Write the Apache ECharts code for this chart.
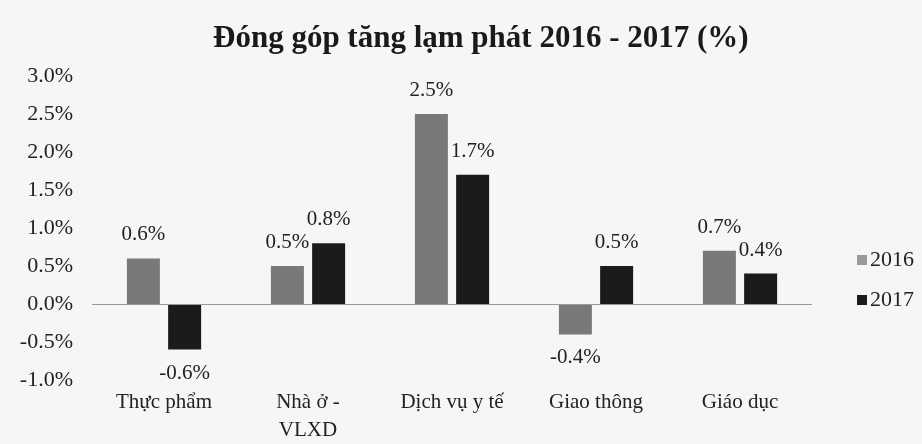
<!DOCTYPE html>
<html>
<head>
<meta charset="utf-8">
<script src="https://cdn.jsdelivr.net/npm/echarts@6/dist/echarts.min.js"></script>
<style>
html,body{margin:0;padding:0;background:#f6f6f4;}
#chart{width:922px;height:444px;}
</style>
</head>
<body>
<div id="chart"></div>
<script>
const titleText = 'Đóng góp tăng lạm phát 2016 - 2017 (%)';
const categories = ['Thực phẩm', 'Nhà ở -\nVLXD', 'Dịch vụ y tế', 'Giao thông', 'Giáo dục'];
const seriesNames = ['2016', '2017'];
const values2016 = [0.6, 0.5, 2.5, -0.4, 0.7];
const values2017 = [-0.6, 0.8, 1.7, 0.5, 0.4];
const yMin = -1.0, yMax = 3.0, yStep = 0.5;

const FONT = '"Liberation Serif", "DejaVu Serif", serif';
const TEXT = '#222';

function pct(v){ return v.toFixed(1) + '%'; }
function toItems(arr){
  return arr.map(v => ({
    value: v,
    label: { position: v < 0 ? 'bottom' : 'top' }
  }));
}

const chart = echarts.init(document.getElementById('chart'));
chart.setOption({
  backgroundColor: '#f6f6f4',
  animation: false,
  title: {
    text: titleText,
    left: 208,
    top: 18,
    textStyle: { fontFamily: FONT, fontSize: 31, fontWeight: 'bold', color: '#1a1a1a' }
  },
  legend: {
    data: [
      { name: seriesNames[0], itemStyle: { color: '#9a9a9c' } },
      { name: seriesNames[1], itemStyle: { color: '#1b1b1d' } }
    ],
    orient: 'vertical',
    left: 852,
    top: 244,
    itemWidth: 10,
    itemHeight: 10,
    itemGap: 18,
    icon: 'rect',
    textStyle: { fontFamily: FONT, fontSize: 22, color: TEXT, padding: [0,0,0,-2] }
  },
  grid: { left: 92, right: 110, top: 76, bottom: 57, containLabel: false },
  xAxis: {
    type: 'category',
    data: categories,
    axisLine: { show: false, onZero: false },
    axisTick: { show: false },
    axisLabel: { fontFamily: FONT, fontSize: 21, color: TEXT, margin: 8, lineHeight: 28, interval: 0 }
  },
  yAxis: {
    type: 'value',
    min: yMin, max: yMax, interval: yStep,
    axisLine: { show: false },
    axisTick: { show: false },
    splitLine: { show: false },
    axisLabel: { fontFamily: FONT, fontSize: 22, color: TEXT, margin: 19, formatter: v => pct(v) }
  },
  series: [
    {
      name: seriesNames[0], type: 'bar', data: toItems(values2016),
      barWidth: 33, barGap: '25%', barCategoryGap: '48%',
      itemStyle: { color: '#78797b' },
      label: { show: true, distance: 13, fontFamily: FONT, fontSize: 21, color: TEXT, formatter: p => pct(p.value) },
      markLine: {
        silent: true, symbol: 'none',
        lineStyle: { color: '#9a9a9a', width: 1, type: 'solid' },
        label: { show: false },
        data: [{ yAxis: 0 }]
      }
    },
    {
      name: seriesNames[1], type: 'bar', data: toItems(values2017),
      barWidth: 33, barGap: '25%',
      itemStyle: { color: '#1b1b1d' },
      label: { show: true, distance: 13, fontFamily: FONT, fontSize: 21, color: TEXT, formatter: p => pct(p.value) }
    }
  ]
});
</script>
</body>
</html>
